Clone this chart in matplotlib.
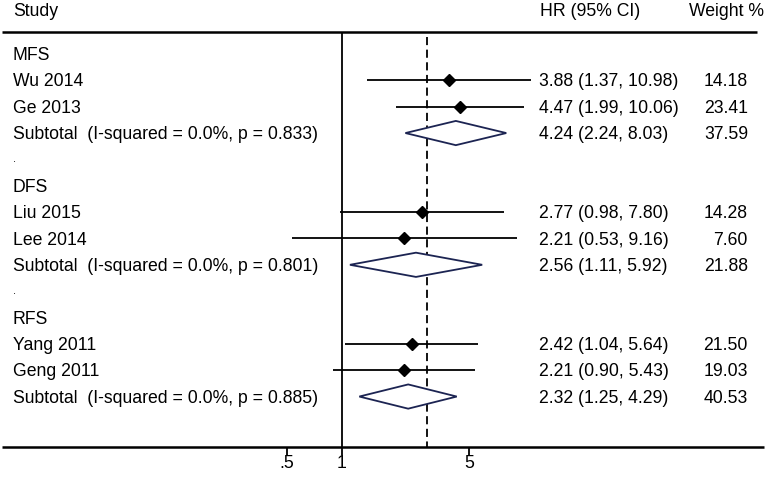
import numpy as np
import matplotlib.pyplot as plt

plt.rcParams['font.family'] = ['Liberation Sans', 'DejaVu Sans']

# ---------------- data ----------------
labels = ['MFS', 'Wu 2014', 'Ge 2013', 'Subtotal  (I-squared = 0.0%, p = 0.833)', '.',
          'DFS', 'Liu 2015', 'Lee 2014', 'Subtotal  (I-squared = 0.0%, p = 0.801)', '.',
          'RFS', 'Yang 2011', 'Geng 2011', 'Subtotal  (I-squared = 0.0%, p = 0.885)']
# kind: h = group header, s = study, t = subtotal, d = dot spacer
kinds = ['h', 's', 's', 't', 'd', 'h', 's', 's', 't', 'd', 'h', 's', 's', 't']
hr = [None, 3.88, 4.47, 4.24, None, None, 2.77, 2.21, 2.56, None, None, 2.42, 2.21, 2.32]
lo = [None, 1.37, 1.99, 2.24, None, None, 0.98, 0.53, 1.11, None, None, 1.04, 0.90, 1.25]
hi = [None, 10.98, 10.06, 8.03, None, None, 7.80, 9.16, 5.92, None, None, 5.64, 5.43, 4.29]
weight = [None, 14.18, 23.41, 37.59, None, None, 14.28, 7.60, 21.88, None, None, 21.50, 19.03, 40.53]
overall = 2.93
tick_vals = [0.5, 1, 5]
tick_labels = ['.5', '1', '5']

# ---------------- layout (pixels of a 768x479 picture) ----------------
W, H = 768, 479
px_per_log = 79.0
x_one = 341.7
row0, row_h = 54.0, 26.35

def row_of(pix):
    return (pix - row0) / row_h

fig = plt.figure(figsize=(W / 100, H / 100), dpi=100)
ax = fig.add_axes([0, 0, 1, 1])
ax.set_xscale('log')
ax.set_xlim(np.exp(-x_one / px_per_log), np.exp((W - x_one) / px_per_log))
ax.set_ylim(row_of(H), row_of(0))
ax.axis('off')

fs = 12.7
navy = '#1c2452'
ytr = ax.get_yaxis_transform()   # x in axes fraction, y in rows
dy = 0.06  # small nudge so text sits like the reference

top_y = row_of(32.3)
bot_y = row_of(447)

# header
ax.text(12.7 / W, row_of(11), 'Study', transform=ytr, fontsize=fs, va='center', ha='left')
ax.text(540 / W, row_of(11), 'HR (95% CI)', transform=ytr, fontsize=fs, va='center', ha='left')
ax.text(689 / W, row_of(11), 'Weight %', transform=ytr, fontsize=fs, va='center', ha='left')

# frame lines
ax.hlines(top_y, 2 / W, 757 / W, transform=ytr, color='black', lw=1.8)
ax.hlines(bot_y, 2 / W, 764 / W, transform=ytr, color='black', lw=1.8)
ax.vlines(1, top_y, bot_y, color='black', lw=1.3)
ax.vlines(overall, row_of(37), bot_y, color='black', lw=1.3, linestyles=(0, (4.5, 2.5)))

# rows
for i, (lab, k) in enumerate(zip(labels, kinds)):
    if k == 'd':
        ax.text(12.7 / W, i, lab, transform=ytr, fontsize=8, va='center', ha='left')
        continue
    ax.text(12.7 / W, i + dy, lab, transform=ytr, fontsize=fs, va='center', ha='left')
    if k == 'h':
        continue
    ax.text(539 / W, i + dy, f'{hr[i]:.2f} ({lo[i]:.2f}, {hi[i]:.2f})', transform=ytr,
            fontsize=fs, va='center', ha='left')
    ax.text(748 / W, i + dy, f'{weight[i]:.2f}', transform=ytr, fontsize=fs, va='center', ha='right')
    if k == 's':
        ax.hlines(i, lo[i], hi[i], color='black', lw=1.3)
        ax.plot(hr[i], i, marker='D', color='black', markersize=6.5, zorder=3)
    else:
        hh = 0.46
        ax.fill([lo[i], hr[i], hi[i], hr[i], lo[i]], [i, i - hh, i, i + hh, i],
                facecolor='white', edgecolor=navy, lw=1.3, zorder=3)

# x axis ticks
tick_len = 8 / row_h
ax.vlines(tick_vals, bot_y, bot_y + tick_len, color='black', lw=1.3)
for v, t in zip(tick_vals, tick_labels):
    ax.text(v, row_of(463), t, fontsize=fs, ha='center', va='center')

fig.savefig('out.png', dpi=100)
